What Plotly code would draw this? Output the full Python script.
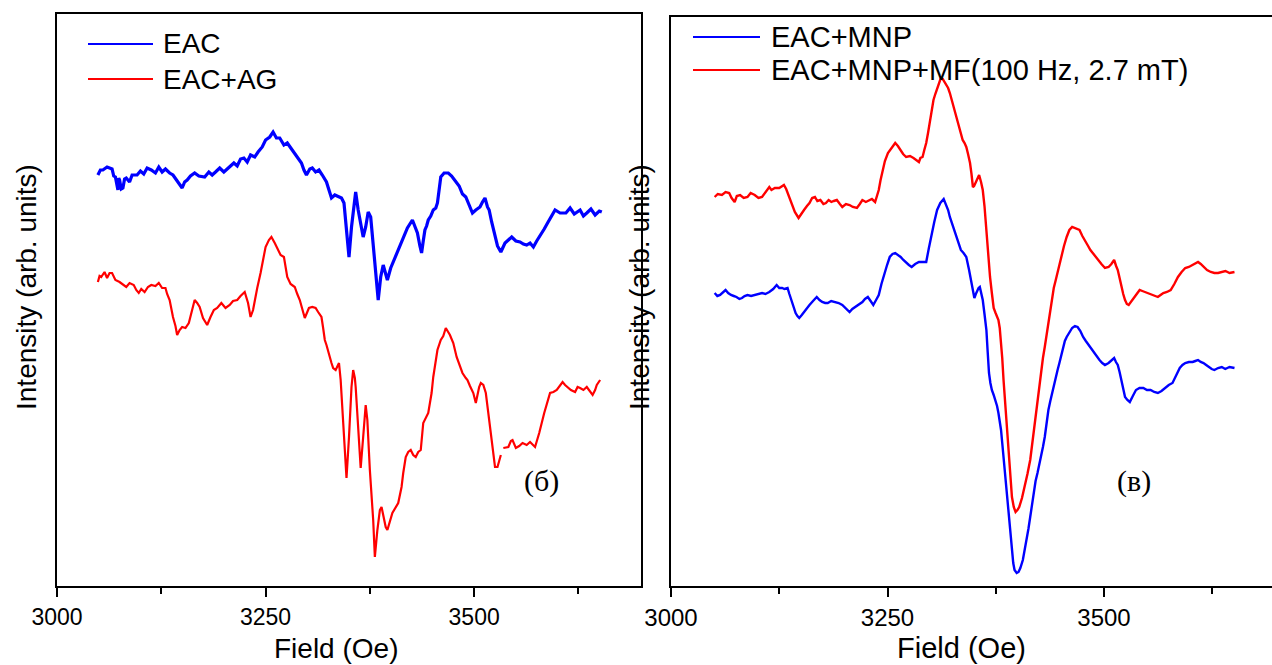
import plotly.graph_objects as go

# ---------------- data: left panel (EAC / EAC+AG) ----------------
eac_field = [3049, 3052, 3055, 3060, 3066, 3068, 3070, 3072, 3073, 3074, 3075, 3077, 3079, 3081, 3083,
             3087, 3090, 3096, 3100, 3104, 3108, 3113, 3118, 3122, 3126, 3130, 3135, 3139, 3144, 3150,
             3153, 3156, 3160, 3165, 3170, 3177, 3182, 3186, 3190, 3195, 3200, 3207, 3212, 3216, 3220,
             3224, 3228, 3232, 3237, 3241, 3246, 3250, 3255, 3259, 3263, 3267, 3272, 3276, 3280, 3285,
             3289, 3293, 3296, 3299, 3303, 3306, 3310, 3314, 3318, 3323, 3326, 3329, 3333, 3338, 3341,
             3344, 3347, 3350, 3353, 3356, 3358, 3361, 3364, 3367, 3370, 3373, 3376, 3379, 3381, 3383,
             3385, 3388, 3391, 3393, 3396, 3400, 3404, 3409, 3415, 3420, 3426, 3429, 3432, 3435, 3437,
             3439, 3441, 3443, 3445, 3448, 3451, 3454, 3456, 3458, 3460, 3464, 3469, 3473, 3477, 3482,
             3486, 3490, 3494, 3498, 3502, 3507, 3510, 3513, 3516, 3518, 3521, 3524, 3528, 3532, 3535,
             3537, 3541, 3545, 3550, 3555, 3559, 3563, 3567, 3571, 3575, 3580, 3584, 3588, 3592, 3597,
             3603, 3610, 3615, 3620, 3627, 3631, 3635, 3640, 3645, 3650, 3653]
eac_int = [411, 416, 416, 419, 417, 410, 409, 397, 396, 408, 406, 397, 398, 407, 408,
           404, 411, 411, 415, 412, 418, 416, 413, 419, 414, 417, 413, 411, 405, 398,
           404, 406, 410, 413, 410, 409, 414, 411, 414, 418, 414, 419, 423, 420, 427,
           428, 424, 431, 429, 434, 439, 446, 449, 454, 448, 448, 441, 443, 438, 432,
           428, 423, 416, 411, 417, 418, 414, 416, 411, 404, 396, 388, 391, 389, 388,
           383, 359, 329, 359, 385, 394, 376, 360, 349, 359, 374, 369, 343, 320, 303,
           286, 309, 321, 315, 306, 318, 326, 336, 349, 358, 366, 360, 353, 340, 333,
           345, 356, 360, 366, 370, 376, 378, 383, 396, 409, 413, 413, 410, 406, 400,
           392, 389, 381, 373, 376, 379, 384, 388, 379, 376, 364, 353, 340, 334, 340,
           343, 346, 349, 345, 344, 342, 341, 343, 339, 345, 351, 357, 363, 369, 376,
           373, 373, 378, 372, 376, 370, 373, 377, 371, 375, 374]

eac_ag_field = [3049, 3051, 3053, 3057, 3060, 3063, 3066, 3070, 3075, 3079, 3083, 3087, 3092, 3095, 3098,
                3101, 3105, 3109, 3113, 3118, 3122, 3126, 3130, 3132, 3135, 3139, 3142, 3144, 3147, 3150,
                3154, 3158, 3161, 3165, 3168, 3171, 3175, 3180, 3184, 3188, 3192, 3197, 3202, 3207, 3211,
                3216, 3220, 3225, 3229, 3232, 3235, 3237, 3240, 3244, 3247, 3250, 3254, 3257, 3261, 3265,
                3268, 3272, 3274, 3276, 3280, 3285, 3288, 3291, 3294, 3297, 3299, 3302, 3306, 3310, 3313,
                3317, 3319, 3321, 3323, 3325, 3327, 3329, 3331, 3334, 3336, 3338, 3340, 3342, 3344, 3347,
                3350, 3352, 3353, 3355, 3357, 3358, 3361, 3364, 3367, 3370, 3372, 3375, 3379, 3381, 3384,
                3387, 3389, 3394, 3396, 3399, 3402, 3409, 3413, 3415, 3418, 3421, 3424, 3427, 3430, 3433,
                3436, 3439, 3445, 3449, 3451, 3456, 3460, 3463, 3466, 3471, 3475, 3479, 3483, 3486, 3490,
                3492, 3495, 3499, 3502, 3504, 3506, 3508, 3511, 3514, 3518, 3522, 3525, 3528, 3532, None,
                3535, 3541, 3544, 3546, 3550, 3554, 3558, 3563, 3567, 3570, 3573, 3578, 3584, 3591, 3595,
                3599, 3602, 3606, 3609, 3612, 3616, 3621, 3624, 3627, 3631, 3635, 3639, 3642, 3645, 3647,
                3651]
eac_ag_int = [304, 310, 309, 314, 308, 313, 313, 306, 304, 301, 299, 303, 301, 296, 293,
              297, 294, 299, 301, 300, 303, 298, 298, 292, 286, 269, 260, 251, 256, 259,
              258, 263, 272, 286, 283, 279, 268, 261, 269, 276, 278, 283, 278, 281, 285,
              286, 290, 294, 283, 269, 276, 286, 298, 313, 327, 339, 346, 349, 343, 336,
              331, 329, 318, 309, 302, 299, 292, 286, 277, 268, 272, 278, 279, 278, 274,
              269, 258, 246, 241, 236, 229, 223, 218, 216, 220, 223, 206, 175, 149, 108,
              149, 185, 199, 216, 208, 199, 159, 118, 149, 181, 166, 116, 66, 29, 56,
              76, 79, 59, 56, 64, 73, 83, 99, 113, 129, 134, 136, 131, 129, 134,
              136, 163, 173, 193, 209, 236, 246, 250, 258, 251, 243, 229, 220, 213, 208,
              206, 200, 193, 183, 192, 199, 203, 201, 193, 166, 139, 119, 119, 131, None,
              138, 139, 145, 146, 138, 140, 143, 141, 144, 141, 139, 153, 173, 193, 194,
              196, 200, 204, 201, 199, 196, 194, 199, 198, 196, 199, 195, 191, 196, 201,
              206]

# ---------------- data: right panel (EAC+MNP / EAC+MNP+MF) ----------------
mf_field = [3050.4, 3054, 3058.8, 3063, 3067.2, 3070, 3073.5, 3076, 3079.8, 3084, 3088.3, 3092, 3096.7, 3101,
            3105.1, 3109, 3113.5, 3116, 3119.9, 3125, 3130.4, 3133, 3136.7, 3140, 3143, 3147.3, 3150,
            3153.6, 3157, 3159.9, 3163, 3166.2, 3169, 3172.5, 3176, 3178.9, 3182, 3185.2, 3188, 3191.5,
            3195, 3197.8, 3202, 3206.2, 3210, 3214.7, 3218, 3221, 3225, 3229.4, 3232, 3235.7, 3238,
            3239.9, 3242, 3244.2, 3247, 3250.5, 3254, 3258.9, 3262, 3265.2, 3268, 3271.5, 3276, 3280,
            3283, 3286.3, 3288, 3290.5, 3292.5, 3294.7, 3296.8, 3298.9, 3301, 3303.1, 3305.2, 3307.3,
            3309.5, 3311.6, 3313.7, 3315.8, 3318, 3320, 3322, 3324.2, 3326.3, 3328.4, 3330.5, 3332.6,
            3334.7, 3336.8, 3339, 3341, 3343, 3345.3, 3347, 3348.6, 3350, 3351.6, 3353.7, 3355.8, 3358,
            3360, 3362, 3364.2, 3366.3, 3368.4, 3370.5, 3372.6, 3374.8, 3376.5, 3378.1, 3379.6, 3381.1,
            3382.5, 3384, 3385.7, 3387.4, 3389, 3390.8, 3392.2, 3393.7, 3395.8, 3397.9, 3400, 3402.1,
            3405.3, 3408.5, 3411.6, 3414.8, 3417, 3419, 3421, 3423.2, 3425.3, 3427.4, 3429.5, 3431.6,
            3433.7, 3435.8, 3438, 3440, 3442, 3444.3, 3447.5, 3450.6, 3453.8, 3456.9, 3460, 3463.2, 3467,
            3471.7, 3475, 3478, 3481, 3484.3, 3488.5, 3492.7, 3497, 3501.1, 3505.3, 3508.5, 3511.7, 3514,
            3515.9, 3518, 3520.1, 3522.2, 3524.3, 3526.4, 3528.5, 3531.7, 3534.8, 3538, 3541.2, 3544.3,
            3547.5, 3551.7, 3555.9, 3559, 3562.2, 3565.3, 3568.5, 3572.7, 3577, 3581.2, 3585.4, 3589.6,
            3593.8, 3598, 3602.3, 3605.5, 3608.6, 3611.7, 3614.9, 3619, 3623.3, 3627.5, 3631.7, 3636,
            3640.2, 3645, 3650.7]
mf_int = [389, 392, 391, 394, 393, 388, 384, 390, 391, 388, 389, 393, 391, 388,
          389, 394, 399, 396, 398, 398, 401, 397, 389, 381, 374, 368, 372,
          376, 380, 383, 388, 389, 385, 386, 382, 383, 386, 384, 385, 386,
          382, 379, 382, 381, 379, 378, 382, 386, 384, 386, 387, 384, 390,
          396, 406, 416, 425, 433, 437, 443, 440, 436, 432, 429, 430, 428,
          426, 424, 428, 429, 436, 443, 453, 464, 475, 486, 492, 498,
          503, 508, 507, 504, 502, 498, 493, 486, 479, 473, 465, 459,
          452, 446, 443, 439, 432, 423, 412, 399, 400, 403, 408, 411, 404,
          396, 380, 353, 330, 309, 293, 278, 273, 269, 266, 258, 246,
          228, 206, 185, 163, 142, 123, 104, 89, 79, 74, 76, 79,
          88, 99, 112, 126, 141, 156, 172, 189, 203, 216, 228, 239,
          251, 263, 276, 289, 298, 306, 318, 329, 340, 349, 356, 359, 358,
          356, 350, 346, 341, 336, 331, 326, 322, 318, 319, 322, 326, 320,
          316, 308, 299, 292, 286, 282, 281, 285, 289, 292, 296, 295,
          294, 292, 291, 290, 289, 291, 293, 294, 296, 302, 309, 314,
          318, 319, 321, 323, 324, 322, 319, 316, 314, 313, 313, 314,
          315, 313, 314]

mnp_field = [3050.4, 3053.5, 3056.7, 3060, 3063, 3066, 3069.3, 3072.5, 3075.6, 3079, 3082, 3085, 3088.3,
             3092.5, 3096.7, 3101, 3105.1, 3109, 3113.5, 3118, 3122, 3125, 3128.3, 3131, 3134.6, 3136.7,
             3138.8, 3141.3, 3143.9, 3146, 3148.1, 3151, 3153.6, 3156.7, 3159.9, 3164, 3168.3, 3171.5,
             3174.6, 3178, 3181, 3185, 3189.4, 3193.6, 3197.8, 3202, 3206.2, 3209.4, 3212.6, 3217, 3221,
             3224, 3227.3, 3230.5, 3233.6, 3236.8, 3239.9, 3243, 3246.3, 3249.5, 3252.6, 3255.8, 3258.9,
             3262, 3265.2, 3268.3, 3271.5, 3274.7, 3277.9, 3282, 3286.3, 3290.5, 3294.7, 3297.8, 3301,
             3304, 3307.3, 3311, 3314.9, 3317.5, 3320, 3322, 3324.2, 3326.3, 3328.4, 3331.5, 3334.7,
             3337.8, 3341, 3344.2, 3347.4, 3350.3, 3352, 3353.7, 3355.2, 3356.6, 3358.3, 3360, 3362,
             3364.2, 3365.7, 3367.2, 3368.8, 3370.5, 3372.6, 3374.8, 3376.5, 3378.1, 3379.6, 3381.1,
             3382.5, 3384, 3385.7, 3387.4, 3389, 3390.8, 3392.2, 3393.7, 3395.2, 3396.7, 3399.2, 3401.3,
             3403.4, 3406.3, 3408.5, 3410.6, 3412.7, 3414.8, 3417, 3419, 3421, 3423.2, 3425.3, 3427.4,
             3429.5, 3431.6, 3433.7, 3435.8, 3438, 3440, 3442, 3444.3, 3446.4, 3448.5, 3450.6, 3452.7,
             3454.8, 3456.9, 3460, 3463.2, 3466.4, 3469.5, 3472.7, 3475.9, 3479, 3482.2, 3485.3, 3488.5,
             3491.7, 3494.8, 3498, 3501.1, 3505.3, 3508.5, 3511.7, 3513.8, 3515.9, 3518, 3520.1, 3522.2,
             3524.3, 3527, 3529.8, 3533.3, 3536.9, 3541, 3545.4, 3549.6, 3553.8, 3558, 3562.2, 3566.4,
             3570.6, 3574.8, 3579.1, 3583.3, 3587.5, 3590.6, 3593.8, 3598, 3602.3, 3605.5, 3608.6,
             3611.7, 3614.9, 3618, 3621.2, 3624.4, 3627.5, 3631.7, 3636, 3640, 3645, 3650.7]
mnp_int = [293, 290, 291, 294, 296, 293, 291, 290, 289, 287, 288, 290, 291,
           290, 291, 292, 293, 292, 294, 297, 301, 298, 298, 297, 298, 292,
           286, 279, 273, 270, 268, 271, 274, 278, 281, 285, 289, 286,
           284, 283, 283, 285, 284, 283, 281, 277, 274, 277, 279, 282, 284,
           287, 289, 285, 281, 286, 291, 302, 313, 321, 329, 332, 333,
           331, 329, 326, 323, 321, 319, 322, 324, 324, 324, 338, 353,
           364, 376, 383, 387, 382, 376, 369, 363, 358, 353, 344, 336,
           333, 329, 316, 301, 288, 292, 296, 298, 299, 293, 286, 272,
           256, 234, 213, 203, 196, 191, 186, 180, 173, 165, 156,
           143, 129, 112, 96, 79, 63, 47, 33, 23, 16, 13, 14,
           18, 26, 36, 46, 57, 69, 83, 96, 105, 113, 121, 129,
           139, 149, 163, 176, 185, 193, 201, 209, 216, 223, 231, 239,
           245, 249, 254, 258, 260, 259, 255, 249, 245, 241, 237, 233,
           229, 226, 223, 221, 223, 226, 228, 224, 221, 214, 206, 198,
           189, 186, 184, 190, 196, 198, 198, 196, 196, 194, 193, 195,
           198, 201, 203, 210, 218, 221, 223, 224, 224, 225, 226,
           224, 223, 221, 219, 217, 216, 218, 219, 217, 219, 218]

tick_values = [3000, 3250, 3500]
tick_labels = ["3000", "3250", "3500"]

W, H = 1272, 665
FONT = "Liberation Sans, Arial, sans-serif"
SERIF = "Liberation Serif, Times New Roman, serif"
BLUE, RED = "#0000FF", "#FF0000"


def px(x):
    return x / W


def py(y):
    return (H - y) / H


fig = go.Figure()
fig.add_trace(go.Scatter(x=eac_field, y=eac_int, mode="lines", name="EAC",
                         line=dict(color=BLUE, width=3.2), xaxis="x", yaxis="y"))
fig.add_trace(go.Scatter(x=eac_ag_field, y=eac_ag_int, mode="lines", name="EAC+AG",
                         line=dict(color=RED, width=2.2), connectgaps=False, xaxis="x", yaxis="y"))
fig.add_trace(go.Scatter(x=mnp_field, y=mnp_int, mode="lines", name="EAC+MNP",
                         line=dict(color=BLUE, width=2.4), xaxis="x2", yaxis="y2"))
fig.add_trace(go.Scatter(x=mf_field, y=mf_int, mode="lines", name="EAC+MNP+MF(100 Hz, 2.7 mT)",
                         line=dict(color=RED, width=2.4), xaxis="x2", yaxis="y2"))

xcommon = dict(showline=True, linecolor="black", linewidth=2, mirror=True,
               ticks="outside", ticklen=9, tickwidth=2, tickcolor="black",
               tickvals=tick_values, ticktext=tick_labels, showgrid=False, zeroline=False,
               automargin=False,
               minor=dict(ticks="outside", ticklen=6, tickwidth=2, tickcolor="black",
                          tickvals=[3125, 3375, 3625], showgrid=False))
ycommon = dict(showline=True, linecolor="black", linewidth=2, automargin=False,
               showticklabels=False, ticks="", showgrid=False, zeroline=False)

fig.update_layout(
    width=W, height=H,
    margin=dict(l=0, r=0, t=0, b=0, pad=0, autoexpand=False),
    paper_bgcolor="white", plot_bgcolor="white",
    showlegend=False,
    xaxis=dict(domain=[px(57), px(641)], range=[3000, 3700], anchor="y",
               tickfont=dict(family=FONT, size=23, color="black"), **xcommon),
    yaxis=dict(domain=[py(586), py(14)], range=[0, 572], anchor="x", mirror=True, **ycommon),
    xaxis2=dict(domain=[px(671), 1.0], range=[3000, 3694], anchor="y2",
                tickfont=dict(family=FONT, size=24, color="black"), **xcommon),
    yaxis2=dict(domain=[py(586), py(16.5)], range=[0, 569.5], anchor="x2", mirror=False, **ycommon),
)

# legend samples and labels
legend_items = [
    (88, 153, 44, BLUE, "EAC", 161, 28),
    (88, 153, 79, RED, "EAC+AG", 161, 28),
    (693, 760, 37, BLUE, "EAC+MNP", 769, 29),
    (693, 760, 70, RED, "EAC+MNP+MF(100 Hz, 2.7 mT)", 769, 29),
]
for x0, x1, yy, col, txt, tx, fs in legend_items:
    fig.add_shape(type="line", xref="paper", yref="paper",
                  x0=px(x0), x1=px(x1), y0=py(yy), y1=py(yy),
                  line=dict(color=col, width=2.2))
    fig.add_annotation(x=px(tx), y=py(yy), xref="paper", yref="paper",
                       text=txt, showarrow=False, xanchor="left", yanchor="middle",
                       font=dict(family=FONT, size=fs, color="black"))

# axis titles
for xx, fs in [(336, 28), (961, 29)]:
    fig.add_annotation(x=px(xx), y=py(648), xref="paper", yref="paper", text="Field (Oe)",
                       showarrow=False, xanchor="center", yanchor="middle",
                       font=dict(family=FONT, size=fs, color="black"))
for xx in [26, 639]:
    fig.add_annotation(x=px(xx), y=py(287), xref="paper", yref="paper",
                       text="Intensity (arb. units)", textangle=-90,
                       showarrow=False, xanchor="center", yanchor="middle",
                       font=dict(family=FONT, size=28, color="black"))

# panel labels
for xx, txt in [(541, "(б)"), (1134, "(в)")]:
    fig.add_annotation(x=px(xx), y=py(481), xref="paper", yref="paper", text=txt,
                       showarrow=False, xanchor="center", yanchor="middle",
                       font=dict(family=SERIF, size=30, color="black"))

fig.write_html("out.html")
